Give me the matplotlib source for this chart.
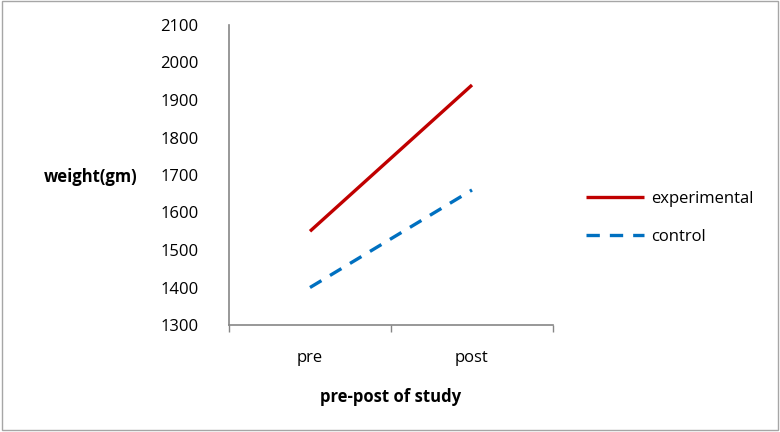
import matplotlib
matplotlib.use("Agg")
import matplotlib.pyplot as plt
from matplotlib.patches import Rectangle

# datos
categories = ["pre", "post"]
experimental = [1550, 1940]
control = [1400, 1660]

plt.rcParams['font.family'] = ['Open Sans', 'DejaVu Sans']
fs = 12

fig = plt.figure(figsize=(7.8, 4.32), dpi=100)
ax = fig.add_axes([229 / 780, 107 / 432, 324 / 780, 300 / 432])

x = [0.5, 1.5]
ax.plot(x, experimental, color='#C00000', lw=2.4, label='experimental',
        solid_capstyle='butt')
ax.plot(x, control, color='#0070C0', lw=2.4, ls=(0, (4, 3)), label='control',
        dash_capstyle='butt')

ax.set_xlim(0, 2)
ax.set_ylim(1300, 2100)
ax.set_yticks(range(1300, 2101, 100))
ax.set_xticks([0, 1, 2])
ax.set_xticklabels([])
ax.set_xticks(x, minor=True)
ax.set_xticklabels(categories, minor=True)
ax.tick_params(axis='x', which='major', direction='out', length=5,
               color='#868686', width=1)
ax.tick_params(axis='x', which='minor', length=0, pad=18, labelsize=fs)
ax.tick_params(axis='y', length=0, pad=22, labelsize=fs)

for s in ['top', 'right']:
    ax.spines[s].set_visible(False)
for s in ['left', 'bottom']:
    ax.spines[s].set_color('#868686')
    ax.spines[s].set_linewidth(1.2)

ax.set_xlabel('pre-post of study', fontweight='bold', fontsize=fs, labelpad=16)
fig.text(137 / 780, 1 - 177 / 432, 'weight(gm)', fontweight='bold',
         fontsize=fs, ha='right', va='center')

fig.legend(loc='center left', bbox_to_anchor=(571 / 780, 1 - 218 / 432),
           frameon=False, fontsize=fs, handlelength=3.5, handletextpad=0.4,
           labelspacing=1.35)

# borde
fig.patches.append(Rectangle((0.002, 0.004), 0.996, 0.993,
                             transform=fig.transFigure, fill=False,
                             edgecolor='#A6A6A6', lw=1))

plt.savefig('out.png', dpi=100)
